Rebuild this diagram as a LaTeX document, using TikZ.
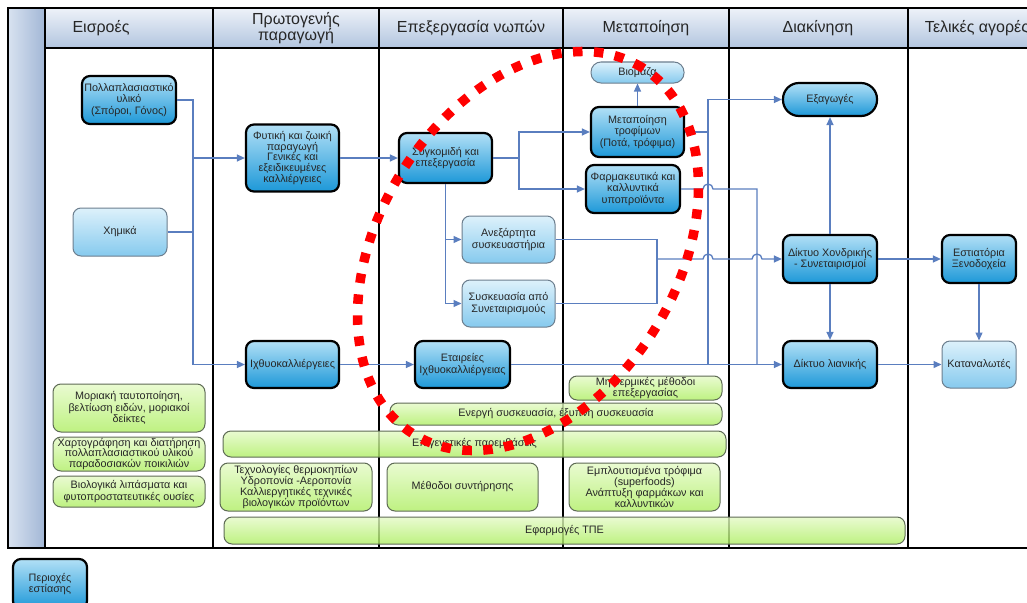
\documentclass[tikz,border=0pt]{standalone}
\usepackage{fontspec}
\setmainfont{Liberation Sans}
\usetikzlibrary{arrows.meta}
\definecolor{flowblue}{HTML}{5A7EBF}
\definecolor{focustop}{HTML}{B2E0F6}
\definecolor{focusbot}{HTML}{1D98D8}
\definecolor{plaintop}{HTML}{DDF1FB}
\definecolor{plainbot}{HTML}{86CAEE}
\definecolor{plainline}{HTML}{6C7E8E}
\definecolor{techtop}{HTML}{E4FAC6}
\definecolor{techbot}{HTML}{AEEE62}
\definecolor{techline}{HTML}{5E6B55}
\definecolor{headtop}{HTML}{EEF2F9}
\definecolor{headbot}{HTML}{B2C5DF}
\definecolor{bandleft}{HTML}{D8E2F0}
\definecolor{bandright}{HTML}{A2B7D6}
\begin{document}
\begin{tikzpicture}
  [x=1pt, y=-1pt,
   lane/.style={line width=2.6pt, draw=black},
   wh/.style 2 args={minimum width=#1pt, minimum height=#2pt},
   box/.style={rounded corners=8pt, align=center, inner sep=1pt, text=black!85,
     font=\fontsize{10.8}{11.7}\selectfont},
   focus/.style={box, draw=black, line width=2.2pt, top color=focustop, bottom color=focusbot},
   plain/.style={box, draw=plainline, line width=1pt, top color=plaintop, bottom color=plainbot},
   tech/.style={box, draw=techline, line width=1pt, top color=techtop, bottom color=techbot,
     fill opacity=0.8, text opacity=1},
   head/.style={font=\fontsize{16}{16}\selectfont, align=center, text=black!85},
   link/.style={draw=flowblue, line width=1.3pt},
   flow/.style={link, -{Triangle[length=8pt,width=7pt]}},
   focusring/.style={draw=red, line width=9.5pt, dash pattern=on 9.5pt off 11.5pt}]
  \useasboundingbox (0,0) rectangle (1027,602);
  \clip (0,0) rectangle (1027,602);

  % swimlanes
  \shade[left color=bandleft, right color=bandright] (8,8) rectangle (45,548);
  \shade[top color=headtop, bottom color=headbot] (45,8) rectangle (1045,48);
  \draw[lane] (8,8) rectangle (1045,548);
  \draw[lane] (45,48) -- (1045,48);
  \foreach \x in {45,213,379,563,729,908}
    \draw[lane] (\x,8) -- (\x,548);
  \node[head] (h1) at (101,28) {Εισροές};
  \node[head] (h2) at (296,28) {Πρωτογενής\\παραγωγή};
  \node[head] (h3) at (471,28) {Επεξεργασία νωπών};
  \node[head] (h4) at (646,28) {Μεταποίηση};
  \node[head] (h5) at (818,28) {Διακίνηση};
  \node[head] (h6) at (977,28) {Τελικές αγορές};

  % technologies
  \node[tech, wh={152}{48}] (mol) at (129,408) {Μοριακή ταυτοποίηση,\\βελτίωση ειδών, μοριακοί\\δείκτες};
  \node[tech, wh={152}{34}, font=\fontsize{10.8}{10.6}\selectfont] (map) at (129,454) {Χαρτογράφηση και διατήρηση\\πολλαπλασιαστικού υλικού\\παραδοσιακών ποικιλιών};
  \node[tech, wh={152}{31}] (fert) at (129,491.5) {Βιολογικά λιπάσματα και\\φυτοπροστατευτικές ουσίες};
  \node[tech, wh={153}{24}, font=\fontsize{10.8}{11}\selectfont] (nontherm) at (645.5,388) {Μη θερμικές μέθοδοι\\επεξεργασίας};
  \node[tech, wh={332}{22}] (pack) at (556,414) {Ενεργή συσκευασία, έξυπνη συσκευασία};
  \node[tech, wh={503}{26}] (epig) at (474.5,444) {Επιγενετικές παρεμβάσεις};
  \node[tech, wh={152}{48}, font=\fontsize{10.8}{11.3}\selectfont] (green) at (296,487) {Τεχνολογίες θερμοκηπίων\\Υδροπονία -Αεροπονία\\Καλλιεργητικές τεχνικές\\βιολογικών προϊόντων};
  \node[tech, wh={151}{48}] (pres) at (462.5,487) {Μέθοδοι συντήρησης};
  \node[tech, wh={151}{48}, font=\fontsize{10.8}{11.3}\selectfont] (rich) at (644.5,487) {Εμπλουτισμένα τρόφιμα\\(superfoods)\\Ανάπτυξη φαρμάκων και\\καλλυντικών};
  \node[tech, wh={681}{27}] (ict) at (564.5,530.5) {Εφαρμογές ΤΠΕ};

  % value chain
  \node[focus, wh={94}{48}] (poll) at (129,100) {Πολλαπλασιαστικό\\υλικό\\(Σπόροι, Γόνος)};
  \node[plain, wh={94}{48}] (chem) at (120,232) {Χημικά};
  \node[focus, wh={93}{67}, font=\fontsize{10.8}{10.8}\selectfont] (fyt) at (292.5,158) {Φυτική και ζωική\\παραγωγή\\Γενικές και\\εξειδικευμένες\\καλλιέργειες};
  \node[focus, wh={93}{47}] (ichth) at (292.5,364.5) {Ιχθυοκαλλιέργειες};
  \node[focus, wh={93}{50}] (harv) at (445.5,158) {Συγκομιδή και\\επεξεργασία};
  \node[focus, wh={95}{47}] (fishco) at (462.5,364.5) {Εταιρείες\\Ιχθυοκαλλιέργειας};
  \node[plain, wh={93}{47}] (indep) at (508.5,239.5) {Ανεξάρτητα\\συσκευαστήρια};
  \node[plain, wh={93}{47}] (coop) at (508.5,303.5) {Συσκευασία από\\Συνεταιρισμούς};
  \node[plain, wh={93}{21}, rounded corners=10pt] (biom) at (637.5,72.5) {Βιομάζα};
  \node[focus, wh={93}{50}] (food) at (637.5,132) {Μεταποίηση\\τροφίμων\\(Ποτά, τρόφιμα)};
  \node[focus, wh={94}{48}] (pharm) at (633,189) {Φαρμακευτικά και\\καλλυντικά\\υποπροϊόντα};
  \node[focus, wh={94}{33}, rounded corners=16pt] (exp) at (830,99.5) {Εξαγωγές};
  \node[focus, wh={94}{48}] (whole) at (830,259) {Δίκτυο Χονδρικής\\- Συνεταιρισμοί};
  \node[focus, wh={94}{47}] (retail) at (830,364.5) {Δίκτυο λιανικής};
  \node[focus, wh={74}{48}] (horeca) at (979,259) {Εστιατόρια\\Ξενοδοχεία};
  \node[plain, wh={74}{47}] (cons) at (979,364.5) {Καταναλωτές};
  \node[focus, wh={74}{50}] (legend) at (50,584) {Περιοχές\\εστίασης};

  \coordinate (ja) at (193,158);
  \coordinate (jc) at (519,158);
  \coordinate (je) at (657,259);
  \coordinate (v1) at (708,132);
  \coordinate (v2) at (757,189);
  \coordinate (x1) at (v1 |- je);
  \coordinate (x2) at (v2 |- je);
  \coordinate (x3) at (v1 |- v2);

  \draw[flow] (poll.east) -| (ja) -- (fyt.west);
  \draw[flow] (ja) |- (ichth.west);
  \draw[link] (chem.east) -- (chem.east -| ja);
  \draw[flow] (fyt) -- (harv);
  \draw[flow] (ichth) -- (fishco);
  \draw[flow] (harv.east) -- (jc) |- (food.west);
  \draw[flow] (jc) |- (pharm.west);
  \draw[flow] (harv.south) |- (indep.west);
  \draw[flow] (harv.south) |- (coop.west);
  \draw[link] (indep.east) -| (je);
  \draw[link] (coop.east) -| (je);
  \draw[flow] (je) -- ([xshift=-5pt]x1) arc[start angle=180, end angle=0, radius=5pt]
    -- ([xshift=-5pt]x2) arc[start angle=180, end angle=0, radius=5pt] -- (whole.west);
  \draw[flow] (food.east) -- (v1) |- (exp.west);
  \draw[link] (v1) -- (v1 |- fishco);
  \draw[link] (pharm.east) -- ([xshift=-5pt]x3) arc[start angle=180, end angle=0, radius=5pt]
    -- (v2) -- (v2 |- fishco);
  \draw[flow] (food) -- (biom);
  \draw[flow] (fishco) -- (retail);
  \draw[flow] (whole) -- (exp);
  \draw[flow] (whole) -- (retail);
  \draw[flow] (whole) -- (horeca);
  \draw[flow] (retail) -- (cons);
  \draw[flow] (horeca) -- (cons);

  \draw[focusring, shift={(528,251)}, rotate=58] (0,0) ellipse [x radius=216pt, y radius=149pt];
\end{tikzpicture}
\end{document}
